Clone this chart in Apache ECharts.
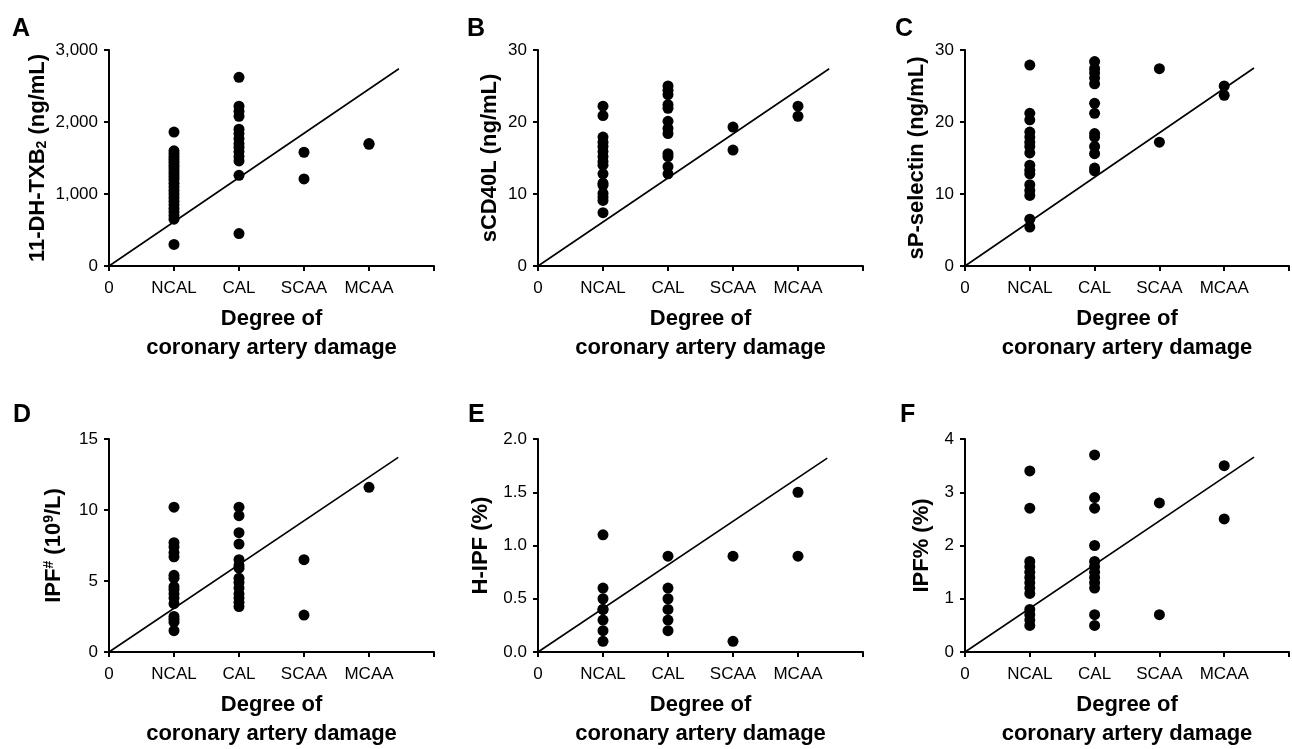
<!DOCTYPE html>
<html lang="en">
<head>
    <meta charset="UTF-8" />
    <title>Degree of coronary artery damage - platelet markers</title>
    <script src="https://cdn.jsdelivr.net/npm/echarts@6/dist/echarts.min.js"></script>
    <style>
        html, body { margin: 0; padding: 0; background: #fff; }
        #main { width: 1292px; height: 749px; }
    </style>
</head>
<body>
<div id="main"></div>
<script>
    // x positions: 0 = origin, 1..4 = groups, 5 = end of axis
    var groups = ['NCAL', 'CAL', 'SCAA', 'MCAA'];
    var xTickLabels = ['0', 'NCAL', 'CAL', 'SCAA', 'MCAA', ''];

    // A - 11-DH-TXB2 (ng/mL)
    var txbNCAL = [1860, 1600, 1560, 1520, 1480, 1440, 1400, 1360, 1320, 1280, 1240, 1200, 1150, 1100, 1050, 1000, 950, 900, 850, 800, 750, 700, 650, 300];
    var txbCAL = [2620, 2220, 2150, 2080, 1900, 1840, 1770, 1700, 1650, 1590, 1520, 1460, 1260, 450];
    var txbSCAA = [1580, 1210];
    var txbMCAA = [1700, 1690];

    // B - sCD40L (ng/mL)
    var cd40NCAL = [22.2, 20.9, 17.9, 17.2, 16.6, 15.9, 15.2, 14.5, 14.0, 12.8, 11.5, 11.2, 10.1, 9.6, 9.1, 7.4];
    var cd40CAL = [25.0, 24.4, 23.8, 22.4, 21.9, 20.1, 19.1, 18.4, 15.6, 15.2, 13.8, 12.8];
    var cd40SCAA = [19.3, 16.1];
    var cd40MCAA = [22.2, 20.8];

    // C - sP-selectin (ng/mL)
    var selNCAL = [27.9, 21.2, 20.3, 18.6, 17.9, 17.2, 16.6, 15.7, 14.0, 13.3, 12.8, 11.3, 10.5, 9.8, 6.5, 5.4];
    var selCAL = [28.4, 27.4, 26.8, 26.1, 25.3, 22.6, 21.2, 18.4, 17.9, 16.6, 15.6, 13.6, 13.2];
    var selSCAA = [27.4, 17.2];
    var selMCAA = [25.0, 23.7];

    // D - IPF# (10^9/L)
    var ipfnNCAL = [10.2, 7.7, 7.4, 7.0, 6.7, 5.4, 5.2, 4.6, 4.4, 4.1, 3.8, 3.4, 2.5, 2.3, 2.1, 1.5];
    var ipfnCAL = [10.2, 9.6, 8.4, 7.6, 6.5, 6.1, 5.9, 5.2, 4.9, 4.5, 4.1, 3.8, 3.5, 3.2];
    var ipfnSCAA = [6.5, 2.6];
    var ipfnMCAA = [11.6];

    // E - H-IPF (%)
    var hipfNCAL = [1.1, 0.6, 0.5, 0.4, 0.4, 0.3, 0.2, 0.1];
    var hipfCAL = [0.9, 0.6, 0.5, 0.4, 0.3, 0.2];
    var hipfSCAA = [0.9, 0.1];
    var hipfMCAA = [1.5, 0.9];

    // F - IPF% (%)
    var ipfpNCAL = [3.4, 2.7, 1.7, 1.6, 1.5, 1.4, 1.3, 1.2, 1.1, 0.8, 0.7, 0.6, 0.5];
    var ipfpCAL = [3.7, 2.9, 2.7, 2.0, 1.7, 1.6, 1.5, 1.4, 1.3, 1.2, 0.7, 0.5];
    var ipfpSCAA = [2.8, 0.7];
    var ipfpMCAA = [3.5, 2.5];

    // trend line end points (start at origin)
    var lineEnds = [[4.46, 2740], [4.48, 27.4], [4.46, 27.5], [4.45, 13.7], [4.45, 1.82], [4.46, 3.66]];

    var panels = [
        { letter: 'A', name: '11-DH-TXB{sub|2} (ng/mL)', max: 3000, interval: 1000, gap: 60,
          groups: [txbNCAL, txbCAL, txbSCAA, txbMCAA] },
        { letter: 'B', name: 'sCD40L (ng/mL)', max: 30, interval: 10, gap: 37,
          groups: [cd40NCAL, cd40CAL, cd40SCAA, cd40MCAA] },
        { letter: 'C', name: 'sP-selectin (ng/mL)', max: 30, interval: 10, gap: 37,
          groups: [selNCAL, selCAL, selSCAA, selMCAA] },
        { letter: 'D', name: 'IPF{sup|#} (10{sup|9}/L)', max: 15, interval: 5, gap: 44,
          groups: [ipfnNCAL, ipfnCAL, ipfnSCAA, ipfnMCAA] },
        { letter: 'E', name: 'H-IPF (%)', max: 2, interval: 0.5, gap: 46, decimals: 1,
          groups: [hipfNCAL, hipfCAL, hipfSCAA, hipfMCAA] },
        { letter: 'F', name: 'IPF% (%)', max: 4, interval: 1, gap: 32,
          groups: [ipfpNCAL, ipfpCAL, ipfpSCAA, ipfpMCAA] }
    ];

    var lefts = [109, 538, 965];
    var tops = [50, 439];
    var letterPos = [[7, 12], [462, 12], [890, 12], [8, 398], [463, 398], [895, 398]];
    var font = 'Liberation Sans, Arial, sans-serif';

    var grid = [], xAxis = [], yAxis = [], series = [], title = [];

    panels.forEach(function (p, i) {
        grid.push({
            left: lefts[i % 3],
            top: tops[Math.floor(i / 3)],
            width: 325,
            height: 216
        });
        title.push({
            text: p.letter,
            left: letterPos[i][0],
            top: letterPos[i][1],
            textStyle: { fontFamily: font, fontSize: 25, fontWeight: 'bold', color: '#000' }
        });
        xAxis.push({
            type: 'value',
            gridIndex: i,
            min: 0,
            max: 5,
            interval: 1,
            splitLine: { show: false },
            axisLine: { onZero: false, lineStyle: { color: '#000', width: 2 } },
            axisTick: { length: 5, lineStyle: { color: '#000', width: 2 } },
            axisLabel: {
                color: '#000', fontSize: 17, fontFamily: font, margin: 14,
                formatter: function (v) { return xTickLabels[Math.round(v)]; }
            },
            name: 'Degree of\ncoronary artery damage',
            nameLocation: 'middle',
            nameGap: 38,
            nameTextStyle: { color: '#000', fontSize: 22, fontWeight: 'bold', fontFamily: font, lineHeight: 29 }
        });
        yAxis.push({
            type: 'value',
            gridIndex: i,
            min: 0,
            max: p.max,
            interval: p.interval,
            splitLine: { show: false },
            axisLine: { show: true, lineStyle: { color: '#000', width: 2 } },
            axisTick: { show: true, length: 5, lineStyle: { color: '#000', width: 2 } },
            axisLabel: {
                color: '#000', fontSize: 17, fontFamily: font, margin: 11,
                formatter: function (v) {
                    if (p.decimals) return v.toFixed(p.decimals);
                    return v.toLocaleString('en-US');
                }
            },
            name: p.name,
            nameLocation: 'middle',
            nameGap: p.gap,
            nameTextStyle: {
                color: '#000', fontSize: 22, fontWeight: 'bold', fontFamily: font,
                rich: {
                    sub: { fontSize: 14, fontWeight: 'bold', fontFamily: font, color: '#000', verticalAlign: 'bottom', padding: [9, 0, 0, 0] },
                    sup: { fontSize: 14, fontWeight: 'bold', fontFamily: font, color: '#000', verticalAlign: 'top', padding: [0, 0, 9, 0] }
                }
            }
        });

        var pts = [];
        p.groups.forEach(function (vals, g) {
            vals.forEach(function (v) { pts.push([g + 1, v]); });
        });
        series.push({
            type: 'line',
            xAxisIndex: i,
            yAxisIndex: i,
            data: [[0, 0], lineEnds[i]],
            showSymbol: false,
            silent: true,
            lineStyle: { color: '#000', width: 1.6 },
            z: 1
        });
        series.push({
            type: 'scatter',
            xAxisIndex: i,
            yAxisIndex: i,
            data: pts,
            symbolSize: 11,
            itemStyle: { color: '#000', opacity: 1 },
            z: 2
        });
    });

    var myChart = echarts.init(document.getElementById('main'));
    myChart.setOption({
        animation: false,
        title: title,
        grid: grid,
        xAxis: xAxis,
        yAxis: yAxis,
        series: series
    });
</script>
</body>
</html>
